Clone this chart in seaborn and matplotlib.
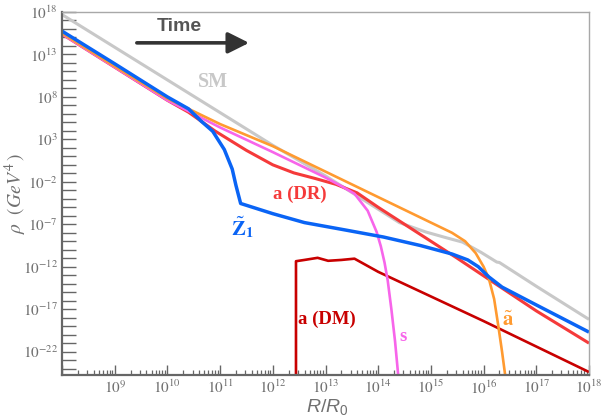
import matplotlib
matplotlib.use("Agg")
import matplotlib.pyplot as plt
from matplotlib import ticker
import numpy as np
import pandas as pd
import seaborn as sns

# Energy densities vs scale factor, stored as log10 values
sm_logx = [8.0, 10.0, 12.0, 13.0, 13.46, 14.4, 14.9, 15.3, 15.6, 15.95, 16.25, 16.3, 17.0, 18.0]
sm_logy = [17.7, 10.0, 2.3, -1.3, -3.1, -6.8, -7.9, -8.6, -9.1, -10.3, -11.45, -11.5, -14.3, -18.2]

dm_logx = [12.44, 12.44, 12.6, 12.85, 13.05, 13.3, 13.55, 14.0, 15.0, 16.0, 17.0, 18.0]
dm_logy = [-30.0, -11.35, -11.2, -10.95, -11.3, -11.2, -11.05, -12.6, -15.5, -18.4, -21.4, -24.4]

dr_logx = [8.0, 9.0, 10.0, 10.4, 10.9, 11.5, 12.0, 12.4, 12.8, 13.2, 13.6, 14.0, 14.5, 15.0, 15.5, 16.2, 17.0, 18.0]
dr_logy = [15.4, 11.5, 7.6, 6.2, 4.0, 1.7, 0.0, -0.95, -1.6, -2.3, -3.3, -5.0, -7.0, -9.0, -11.0, -13.9, -17.2, -21.0]

sax_logx = [8.0, 9.0, 10.0, 11.0, 12.0, 12.6, 13.0, 13.3, 13.55, 13.8, 13.97, 14.05, 14.12, 14.18, 14.25, 14.32, 14.38]
sax_logy = [15.4, 11.5, 7.6, 4.4, 1.5, -0.3, -1.5, -2.5, -3.4, -5.4, -7.9, -9.6, -11.5, -13.6, -17.0, -20.8, -24.8]

axino_logx = [8.0, 9.0, 10.0, 11.0, 12.0, 13.0, 14.0, 14.5, 15.0, 15.4, 15.65, 15.85, 16.0, 16.1, 16.2, 16.28, 16.35, 16.41]
axino_logy = [15.5, 11.6, 7.8, 4.8, 2.2, -0.8, -3.8, -5.3, -6.8, -8.0, -9.0, -10.4, -12.0, -13.4, -15.8, -19.0, -22.0, -24.8]

z1_logx = [8.0, 9.0, 10.0, 10.4, 10.64, 10.86, 11.08, 11.23, 11.30, 11.35, 11.39, 12.0, 12.6, 13.4, 14.1, 14.8, 15.4, 15.7, 15.9, 16.1, 16.35, 17.0, 18.0]
z1_logy = [15.75, 11.9, 8.0, 6.6, 5.15, 3.95, 1.8, -0.5, -2.4, -3.6, -4.55, -5.75, -6.8, -7.7, -8.5, -9.5, -10.5, -11.2, -12.0, -13.2, -14.4, -16.5, -19.7]

y_labelled_exps = [18, 13, 8, 3, -2, -7, -12, -17, -22]

sns.set_theme(style="ticks")
plt.rcParams["font.family"] = ["Liberation Serif", "DejaVu Serif"]
plt.rcParams["mathtext.fontset"] = "stix"
# sans italic set used only by the x-axis title
plt.rcParams["mathtext.it"] = "Liberation Sans:italic"
plt.rcParams["mathtext.rm"] = "Liberation Sans"

fig = plt.figure(figsize=(6.02, 4.18), dpi=100)
ax = fig.add_axes([62 / 602, 1 - 375 / 418, 527 / 602, 363 / 418])

series = [
    ("SM", sm_logx, sm_logy, "#c8c8c8", 2.2),
    ("a (DM)", dm_logx, dm_logy, "#c80000", 1.9),
    ("a (DR)", dr_logx, dr_logy, "#f53a3a", 2.2),
    ("s", sax_logx, sax_logy, "#f765ea", 1.9),
    ("axino", axino_logx, axino_logy, "#ff9a30", 1.9),
    ("Z1", z1_logx, z1_logy, "#0a64f5", 2.5),
]
for name, lx, ly, col, lw in series:
    df = pd.DataFrame({"R": 10.0 ** np.asarray(lx), "rho": 10.0 ** np.asarray(ly)})
    sns.lineplot(data=df, x="R", y="rho", sort=False, estimator=None,
                 color=col, lw=lw, ax=ax, solid_capstyle="butt", solid_joinstyle="round")

ax.set_xscale("log")
ax.set_yscale("log")
ax.set_xlim(1e8, 1e18)
ax.set_ylim(10 ** -24.75, 1e18)

# axis styling
for side in ("left", "bottom"):
    ax.spines[side].set_color("#666666")
    ax.spines[side].set_linewidth(1.6)
for side in ("top", "right"):
    ax.spines[side].set_color("#a8a8a8")
    ax.spines[side].set_linewidth(1.0)

ax.xaxis.set_major_locator(ticker.LogLocator(base=10, numticks=20))
ax.xaxis.set_minor_locator(ticker.LogLocator(base=10, subs=np.arange(2, 10), numticks=200))
ax.xaxis.set_major_formatter(ticker.FuncFormatter(
    lambda v, p: r"$10^{%d}$" % round(np.log10(v)) if round(np.log10(v)) > 8 else ""))
ax.xaxis.set_minor_formatter(ticker.NullFormatter())

y_decades = [10.0 ** e for e in range(-24, 19)]
ax.yaxis.set_major_locator(ticker.FixedLocator(y_decades))
ax.yaxis.set_minor_locator(ticker.NullLocator())
ax.yaxis.set_major_formatter(ticker.FuncFormatter(
    lambda v, p: r"$10^{%d}$" % round(np.log10(v)) if round(np.log10(v)) in y_labelled_exps else ""))

ax.tick_params(axis="x", which="major", direction="in", length=7, width=1.0, color="#666666",
               labelsize=11, labelcolor="#707070", pad=3)
ax.tick_params(axis="x", which="minor", direction="in", length=3.5, width=0.9, color="#666666")
ax.tick_params(axis="y", which="major", direction="in", length=10, width=1.0, color="#666666",
               labelsize=11, labelcolor="#707070", pad=3)

ax.set_xlabel(r"$R/R_0$", fontsize=14, color="#707070", math_fontfamily="custom")
ax.xaxis.set_label_coords(0.503, -0.06)
ax.set_ylabel(r"$\rho\ \ (G e V^{4}\,)$", fontsize=14, color="#707070")
ax.yaxis.set_label_coords(-0.062, 0.5)

# curve labels
lab = dict(fontsize=13.5, fontweight="bold", ha="center", va="center")
ax.text(10 ** 10.87, 10 ** 9.7, "SM", color="#c8c8c8", fontsize=14.5, fontweight="bold",
        ha="center", va="center")
ax.text(10 ** 12.52, 10 ** -3.47, "a (DR)", color="#f53a3a", **lab)
ax.text(10 ** 11.43, 10 ** -7.35, r"$\tilde{\mathbf{Z}}_{\mathbf{1}}$", color="#0a64f5",
        fontsize=15, ha="center", va="center")
ax.text(10 ** 13.03, 10 ** -18.2, "a (DM)", color="#c80000", **lab)
ax.text(10 ** 14.47, 10 ** -20.2, "s", color="#f765ea", **lab)
ax.text(10 ** 16.46, 10 ** -18.4, r"$\tilde{\mathbf{a}}$", color="#ff9a30",
        fontsize=15, ha="center", va="center")

# time arrow
ax.text(0.222, 0.959, "Time", transform=ax.transAxes, fontsize=14, fontweight="bold",
        family="Liberation Sans", color="#555555", ha="center", va="center")
ax.annotate("", xy=(0.355, 0.915), xytext=(0.142, 0.915), xycoords="axes fraction",
            textcoords="axes fraction",
            arrowprops=dict(arrowstyle="-|>,head_length=0.8,head_width=0.4", lw=2.6,
                            color="#333333", mutation_scale=16, shrinkA=0, shrinkB=0))

fig.savefig("out.png", dpi=100)
